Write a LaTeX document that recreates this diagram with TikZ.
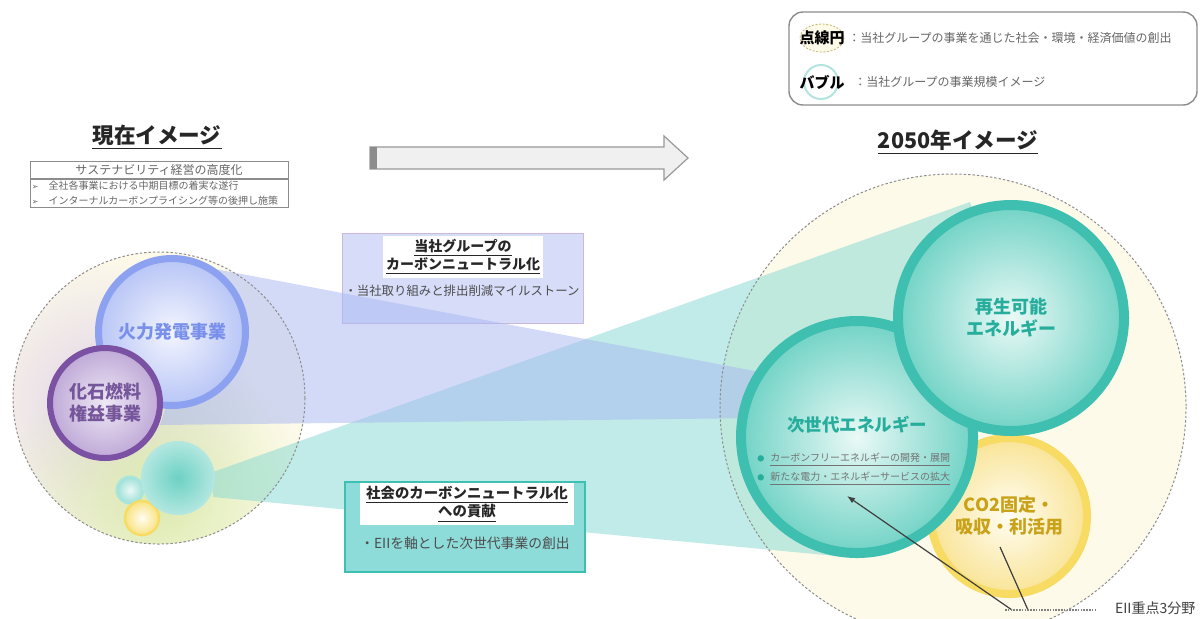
\documentclass[tikz,border=0pt]{standalone}
\usepackage{fontspec}
\setmainfont{Noto Sans CJK JP}
\newfontfamily\symfont{DejaVu Sans}
\usepackage{tikz}
\usetikzlibrary{arrows.meta}
\usetikzlibrary{fadings}

\definecolor{cream}{HTML}{FDFAEA}
\definecolor{dotgray}{HTML}{8E8E8E}
\definecolor{firering}{HTML}{8CA2F0}
\definecolor{firein}{HTML}{F3F5FE}
\definecolor{fireout}{HTML}{B8C5F6}
\definecolor{firetext}{HTML}{7890EA}
\definecolor{fossring}{HTML}{7B52A3}
\definecolor{fossin}{HTML}{EEE8F5}
\definecolor{fossout}{HTML}{BFA9D7}
\definecolor{fosstext}{HTML}{76569A}
\definecolor{tealring}{HTML}{3EBFAF}
\definecolor{tealin}{HTML}{EAF9F6}
\definecolor{tealout}{HTML}{72D3C6}
\definecolor{tealtext}{HTML}{26AD9C}
\definecolor{co2ring}{HTML}{F7DB62}
\definecolor{co2in}{HTML}{FFFDF3}
\definecolor{co2out}{HTML}{F9E496}
\definecolor{co2text}{HTML}{C9A219}
\definecolor{wedgeblue}{HTML}{A7B6F3}
\definecolor{wedgeteal}{HTML}{84D9D2}
\definecolor{cnfill}{HTML}{D7DDF9}
\definecolor{cnline}{HTML}{CDB8DD}
\definecolor{socfill}{HTML}{8EDCDA}
\definecolor{socline}{HTML}{3DBFB1}
\definecolor{glowpurple}{HTML}{D3C2E6}
\definecolor{glowlime}{HTML}{DCEBAE}

\tikzfading[name=glowfade, inner color=transparent!0, outer color=transparent!100]

\begin{document}
\begin{tikzpicture}[x=0.5pt,y=-0.5pt,
    bubble/.style={circle, inner sep=0pt, align=center, font=\bfseries\fontsize{9}{11}\selectfont},
    dotring/.style={draw=dotgray, line width=0.5pt, dash pattern=on 1.2pt off 1pt},
    headline/.style={font=\bfseries\fontsize{10.8}{13}\selectfont, text=black!85},
    boxhead/.style={fill=white, inner sep=1.5pt, align=center, text=black!85},
    graytext/.style={text=black!60, inner sep=1pt}]
\useasboundingbox (0,0) rectangle (1202,618);
\fill[white] (0,0) rectangle (1202,618);

% legend
\draw[black!45, line width=0.7pt, rounded corners=7pt] (789,12) rectangle (1197,105);
\draw[fill=cream, draw=co2ring!60!gray, dash pattern=on 1pt off 0.8pt] (822,38) ellipse (22 and 14);
\node[font=\bfseries\fontsize{7.5}{9}\selectfont] (legdot) at (822,38) {点線円};
\node[graytext, anchor=west, font=\fontsize{6}{7}\selectfont] (legdottxt) at (846,38) {：当社グループの事業を通じた社会・環境・経済価値の創出};
\draw[fill=white, draw=tealring!40, line width=1pt] (821,82) circle (17);
\node[font=\bfseries\fontsize{7.5}{9}\selectfont] (legbub) at (822,82) {バブル};
\node[graytext, anchor=west, font=\fontsize{6}{7}\selectfont] (legbubtxt) at (852,82) {：当社グループの事業規模イメージ};

% titles
\node[headline] (nowttl) at (157,137) {\underline{現在イメージ}};
\node[headline] (futttl) at (958,142) {\underline{2050年イメージ}};

% sustainability box
\node[draw=black!45, minimum width=129pt, minimum height=8.5pt, inner sep=0pt,
      font=\fontsize{6}{7}\selectfont, text=black!60] (sushdr) at (159,170) {サステナビリティ経営の高度化};
\node[draw=black!45, anchor=north, text width=127pt, align=left, inner sep=1pt,
      font=\fontsize{5}{7.5}\selectfont, text=black!60] (susbody) at (sushdr.south)
      {{\symfont\fontsize{4}{7.5}\selectfont ➢}\hspace{5pt}全社各事業における中期目標の着実な遂行\\
       {\symfont\fontsize{4}{7.5}\selectfont ➢}\hspace{5pt}インターナルカーボンプライシング等の後押し施策};

% big arrow
\draw[draw=black!40, fill=black!6, line width=0.6pt] (370,147) -- (664,147) -- (664,136) -- (688,158)
      -- (664,180) -- (664,169) -- (370,169) -- cycle;
\fill[black!45] (370,147) rectangle (377,169);

% dotted circles
\fill[cream] (159,398) circle (146);
\fill[cream] (953,407) circle (233);
\begin{scope}
  \clip (159,398) circle (146);
  \fill[glowpurple, opacity=0.7, path fading=glowfade] (105,405) circle (150);
  \fill[glowlime, path fading=glowfade] (158,495) circle (150);
\end{scope}

% box behind the blue wedge
\node[draw=cnline, fill=cnfill, minimum width=120.5pt, minimum height=45pt, inner sep=0pt] (cnbox) at (462.5,278) {};

% wedges
\fill[wedgeteal, opacity=0.5] (213,472) -- (970,202) -- (1011,318) -- (857,440) -- (857,558) -- (213,497) -- cycle;
\fill[wedgeblue, opacity=0.5] (210,268) -- (760,372) -- (760,418) -- (160,425) -- cycle;

\draw[dotring] (159,398) circle (146);
\draw[dotring] (953,407) circle (233);

% bubbles, left
\node[bubble, minimum size=73.5pt, draw=firering, line width=3.5pt, inner color=firein, outer color=fireout,
      text=firetext] (fire) at (172,332) {火力発電事業};
\node[bubble, minimum size=55pt, draw=fossring, line width=3pt, inner color=fossin, outer color=fossout,
      text=fosstext] (fossil) at (105,403) {化石燃料\\権益事業};
\node[bubble, minimum size=13.5pt, draw=tealout!60, line width=1pt, inner color=tealin, outer color=tealout!70] (tinyteal) at (130,490) {};
\node[bubble, minimum size=17pt, draw=co2ring, line width=1.2pt, inner color=co2in, outer color=co2ring!80] (tinyco2) at (142,518) {};
\node[bubble, minimum size=36pt, draw=tealout!55, line width=1pt, inner color=tealout!90!tealring, outer color=tealout!55] (smallteal) at (178,478) {};

% bubbles, right
\node[bubble, minimum size=78pt, draw=co2ring, line width=4pt, inner color=co2in, outer color=co2out,
      text=co2text] (co2) at (1009,516) {CO2固定・\\吸収・利活用};
\node[bubble, minimum size=116pt, draw=tealring, line width=5pt, inner color=tealin, outer color=tealout] (nextgen) at (857,437) {};
\node[bubble, minimum size=113pt, draw=tealring, line width=5pt, inner color=tealin, outer color=tealout,
      text=tealtext] (renew) at (1011,318) {再生可能\\エネルギー};

\node[font=\bfseries\fontsize{8.75}{10}\selectfont, text=tealtext] (nextttl) at (857,425) {次世代エネルギー};
\node[anchor=west, inner sep=0pt, font=\fontsize{5}{6}\selectfont, text=black!55] (nexta) at (757,460)
      {{\fontsize{3.5}{6}\selectfont\textcolor{tealtext}{●}}\hspace{3pt}\underline{カーボンフリーエネルギーの開発・展開}};
\node[anchor=west, inner sep=0pt, font=\fontsize{5}{6}\selectfont, text=black!55] (nextb) at (757,479)
      {{\fontsize{3.5}{6}\selectfont\textcolor{tealtext}{●}}\hspace{3pt}\underline{新たな電力・エネルギーサービスの拡大}};

% box texts
\node[boxhead, font=\bfseries\fontsize{7}{9}\selectfont] (cnttl) at (463,257) {\underline{当社グループの}\\\underline{カーボンニュートラル化}};
\node[font=\fontsize{6.2}{7}\selectfont, text=black!70] (cnitem) at (462,291) {・当社取り組みと排出削減マイルストーン};

\node[draw=socline, fill=socfill, line width=0.8pt, minimum width=120pt, minimum height=45pt, inner sep=0pt] (socbox) at (465,527) {};
\node[boxhead, minimum width=107pt, font=\bfseries\fontsize{7.2}{9.3}\selectfont] (socttl) at (467,504) {\underline{社会のカーボンニュートラル化}\\\underline{への貢献}};
\node[font=\fontsize{6.9}{8}\selectfont, text=black!70] (socitem) at (465,543) {・EIIを軸とした次世代事業の創出};

% EII callouts
\coordinate (eiiknee) at (1012,610);
\coordinate (nextpin) at (847,496);
\coordinate (co2pin) at (1000,547);
\coordinate (eiiend) at (1095,610);
\draw[black!75, line width=0.6pt, -{Latex[length=4pt,width=3pt]}] (eiiknee) -- (nextpin);
\draw[black!75, line width=0.6pt] (1028,610) -- (co2pin);
\draw[black!50, line width=1.2pt, dash pattern=on 0.8pt off 0.6pt] (1005,610) -- (eiiend);
\node[anchor=west, font=\fontsize{7}{8}\selectfont, text=black!75] (eii) at (1108,608) {EII重点3分野};
\end{tikzpicture}
\end{document}
